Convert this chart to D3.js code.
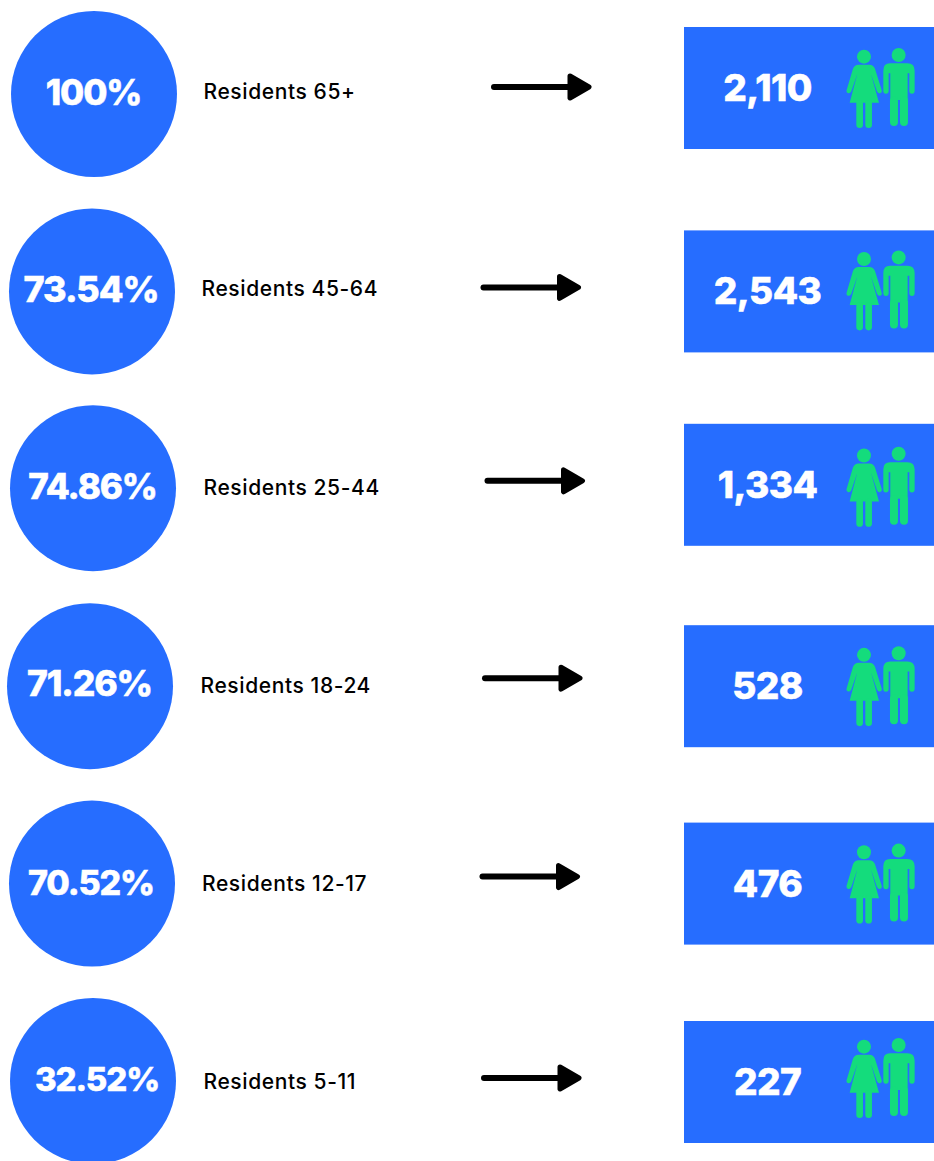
<!DOCTYPE html>
<html>
<head>
<meta charset="utf-8">
<script src="https://cdn.jsdelivr.net/npm/d3@7"></script>
<style>
    html, body { margin: 0; padding: 0; background: #fff; }
    svg { display: block; }
    text { font-family: Inter, "Open Sans", sans-serif; }
    .pct, .count { fill: #fff; font-weight: 800; text-anchor: middle; stroke: #fff; stroke-width: 0.5px; }
    .pct { letter-spacing: -1.1px; }
    .count { font-size: 37px; letter-spacing: -0.6px; }
    .label { fill: #000; font-size: 21px; font-weight: 500; letter-spacing: 0.6px; }
</style>
</head>
<body>
<svg id="chart" width="934" height="1161"></svg>
<script>
// Data
const groups = ['Residents 65+', 'Residents 45-64', 'Residents 25-44', 'Residents 18-24', 'Residents 12-17', 'Residents 5-11'];
const percents = ['100%', '73.54%', '74.86%', '71.26%', '70.52%', '32.52%'];
const counts = ['2,110', '2,543', '1,334', '528', '476', '227'];

// Hand placed offsets, the rows in the original are not quite aligned
const circleX = [94, 92, 93, 90, 92, 93];
const circleDy = [0, 0, -0.6, 0, 0, 0];
const pctX = [93.5, 91, 92.5, 89.5, 91, 97];
const pctDy = [11, 11, 10, 10, 11, 10];
const pctSize = [35, 36, 35, 35.5, 34, 33];
const labelX = [203.5, 201.5, 203.5, 200.5, 202, 203.5];
const labelDy = [5, 5, 6, 7, 7, 8];
const arrowX = [492, 481.5, 485.5, 483, 480.5, 482];
const arrowDy = [-7, -4, -8, -8, -7, -3];
const boxDy = [-6, 0, -4, 0, 0, 1];
const iconDy = [0, -1, 2, 0, 0, -4];

const blue = '#266DFF';
const green = '#14DC7C';

const svg = d3.select('#chart');
const y = d3.scalePoint().domain(groups).range([94, 1081]);
const boxX = 684, boxW = 250, boxH = 122;

const rows = svg.selectAll('.row')
    .data(groups)
    .enter().append('g')
    .classed('row', true);

// Circles
rows.append('circle')
    .attr('cx', (d, i) => circleX[i])
    .attr('cy', (d, i) => y(d) + circleDy[i])
    .attr('r', 83)
    .attr('fill', blue);
rows.append('text')
    .classed('pct', true)
    .attr('x', (d, i) => pctX[i])
    .attr('y', (d, i) => y(d) + pctDy[i])
    .style('font-size', (d, i) => pctSize[i] + 'px')
    .text((d, i) => percents[i]);

// Labels
rows.append('text')
    .classed('label', true)
    .attr('x', (d, i) => labelX[i])
    .attr('y', (d, i) => y(d) + labelDy[i])
    .text(d => d);

// Arrows
const arrow = rows.append('g')
    .attr('transform', (d, i) => `translate(${arrowX[i]},${y(d) + arrowDy[i]})`);
arrow.append('line')
    .attr('x1', 2).attr('x2', 78)
    .attr('y1', 0).attr('y2', 0)
    .attr('stroke', '#000')
    .attr('stroke-width', 6)
    .attr('stroke-linecap', 'round');
arrow.append('path')
    .attr('d', 'M78,-11 L97,0 L78,11 Z')
    .attr('fill', '#000')
    .attr('stroke', '#000')
    .attr('stroke-width', 5)
    .attr('stroke-linejoin', 'round');

// Boxes
const box = rows.append('g')
    .attr('transform', (d, i) => `translate(${boxX},${y(d) + boxDy[i] - boxH / 2})`);
box.append('rect')
    .attr('width', boxW)
    .attr('height', boxH)
    .attr('fill', blue);
box.append('text')
    .classed('count', true)
    .attr('x', 83.5)
    .attr('y', 74)
    .text((d, i) => counts[i]);

// People icon, coordinates taken at 3x
const icon = box.append('g')
    .attr('transform', (d, i) => `translate(0,${iconDy[i]}) scale(0.3333) translate(0,-21)`)
    .attr('fill', green);
// woman
icon.append('circle').attr('cx', 540).attr('cy', 110).attr('r', 21);
icon.append('path').attr('d', 'M524,134 L556,134 Q568,134 573,146 L593,210 Q595,218 588,220 Q582,221 579,214 L561,162 L585,248 L497,248 L520,162 L502,214 Q499,221 493,220 Q486,218 488,210 L507,146 Q512,134 524,134 Z');
icon.append('rect').attr('x', 517).attr('y', 240).attr('width', 20).attr('height', 84).attr('rx', 10);
icon.append('rect').attr('x', 544).attr('y', 240).attr('width', 20).attr('height', 84).attr('rx', 10);
// man
icon.append('circle').attr('cx', 644).attr('cy', 105).attr('r', 21);
icon.append('path').attr('d', 'M618,130 L670,130 Q692,130 692,152 L692,212 Q692,221 684,221 Q676,221 676,212 L676,160 L671,160 L671,240 L619,240 L619,160 L614,160 L614,212 Q614,221 606,221 Q598,221 598,212 L598,152 Q598,130 618,130 Z');
icon.append('rect').attr('x', 618).attr('y', 230).attr('width', 24).attr('height', 88).attr('rx', 12);
icon.append('rect').attr('x', 648).attr('y', 230).attr('width', 24).attr('height', 88).attr('rx', 12);
</script>
</body>
</html>
